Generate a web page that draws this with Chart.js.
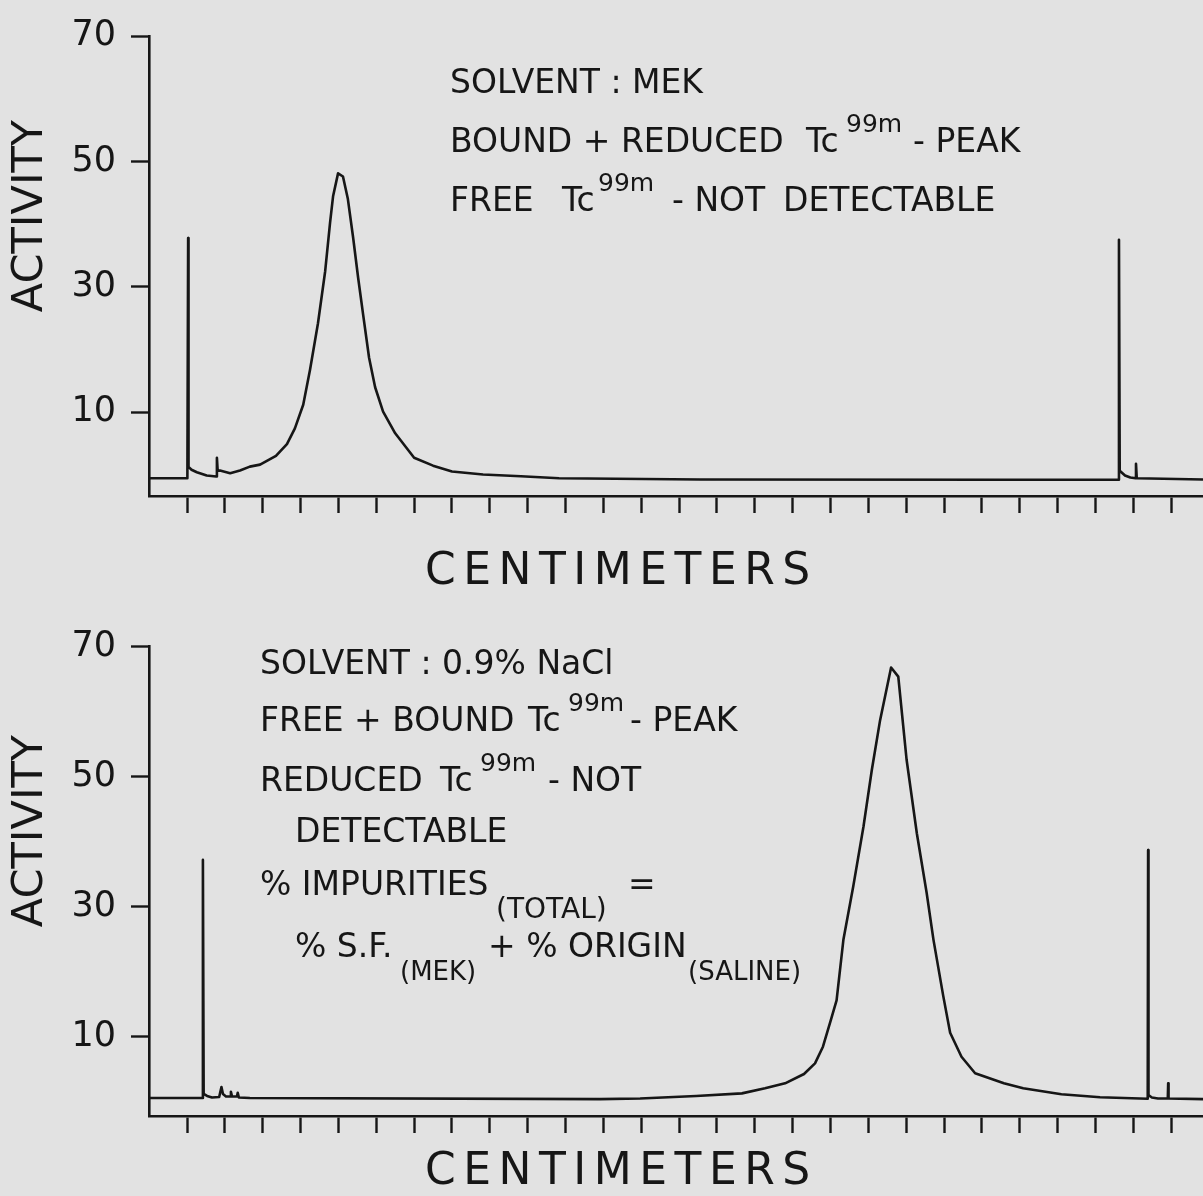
<!DOCTYPE html>
<html><head><meta charset="utf-8">
<script src="https://cdn.jsdelivr.net/npm/chart.js@4/dist/chart.umd.min.js"></script>
<style>
html,body{margin:0;padding:0;background:#e2e2e2;width:1203px;height:1196px;overflow:hidden}
.wrap{position:absolute;left:0;width:1203px;height:598px}
#w1{top:0}#w2{top:598px}
canvas{display:block}
</style></head><body>
<div class="wrap" id="w1"><canvas id="c1" width="1203" height="598"></canvas></div>
<div class="wrap" id="w2"><canvas id="c2" width="1203" height="598"></canvas></div>
<script>
// ---- data (x in centimetre tick units, activity in axis units) ----
const yTickValues = [10, 30, 50, 70];
const xTickValues = [0,1,2,3,4,5,6,7,8,9,10,11,12,13,14,15,16,17,18,19,20,21,22,23,24,25,26];

const mekX = [-1.0, 0.01, 0.03, 0.04, 0.12, 0.26, 0.52, 0.77, 0.79, 0.81, 0.87, 1.14, 1.40, 1.66, 1.93, 2.35, 2.64, 2.85, 3.07, 3.25, 3.46, 3.65, 3.78, 3.86, 3.99, 4.12, 4.25, 4.39, 4.52, 4.65, 4.81, 4.97, 5.18, 5.5, 6.0, 6.5, 7.0, 7.82, 8.82, 9.83, 13.55, 21.48, 24.61, 24.62, 24.64, 24.78, 24.92, 25.06, 25.07, 25.09, 26.84];
const mekActivity = [-0.5, -0.5, 37.8, 1.3, 0.85, 0.45, -0.06, -0.22, 2.75, 0.7, 0.72, 0.3, 0.72, 1.34, 1.66, 3.06, 4.94, 7.44, 11.2, 16.8, 24.2, 32.5, 40.3, 44.5, 48.1, 47.6, 44.0, 37.8, 31.5, 25.7, 18.7, 14.0, 10.1, 6.66, 2.75, 1.5, 0.56, 0.1, -0.2, -0.5, -0.7, -0.75, -0.75, 37.5, 0.7, -0.06, -0.4, -0.5, 1.8, -0.5, -0.7];

const salineX = [-1.0, 0.41, 0.42, 0.44, 0.53, 0.66, 0.85, 0.91, 0.95, 1.03, 1.15, 1.16, 1.19, 1.32, 1.34, 1.37, 1.66, 10.91, 11.97, 13.45, 14.66, 15.27, 15.80, 16.30, 16.59, 16.80, 17.01, 17.16, 17.34, 17.60, 17.87, 18.09, 18.31, 18.6, 18.79, 19.01, 19.28, 19.54, 19.72, 19.98, 20.16, 20.46, 20.82, 21.58, 22.09, 23.10, 24.12, 25.38, 25.39, 25.40, 25.49, 25.65, 25.91, 25.92, 25.93, 26.84];
const salineActivity = [0.57, 0.57, 37.2, 1.2, 0.88, 0.65, 0.72, 2.26, 1.18, 0.8, 0.8, 1.54, 0.8, 0.8, 1.38, 0.65, 0.57, 0.4, 0.49, 0.88, 1.28, 2.06, 2.83, 4.26, 5.9, 8.46, 12.6, 15.6, 24.9, 33.1, 42.3, 51.0, 58.7, 66.8, 65.4, 52.6, 41.3, 32.1, 24.9, 16.2, 10.6, 6.92, 4.37, 2.83, 2.06, 1.14, 0.68, 0.46, 38.7, 1.0, 0.65, 0.5, 0.5, 2.83, 0.5, 0.4];

const yTitle = 'ACTIVITY';
const xTitle = 'CENTIMETERS';

// ---- drawing ----
const ink = '#161616';
const FONT = '"DejaVu Sans", sans-serif';

const figText = {
  id: 'figText',
  afterDraw(chart, args, opts) {
    const ctx = chart.ctx;
    ctx.save();
    ctx.fillStyle = ink;
    ctx.textBaseline = 'alphabetic';
    for (const r of opts.runs) {
      ctx.font = r.s + 'px ' + FONT;
      ctx.letterSpacing = (r.ls || 0) + 'px';
      ctx.textAlign = 'left';
      ctx.fillText(r.t, r.x, r.y);
    }
    const a = opts.yTitle;
    ctx.letterSpacing = (a.ls || 0) + 'px';
    ctx.translate(a.x, a.y);
    ctx.rotate(-Math.PI / 2);
    ctx.font = a.s + 'px ' + FONT;
    ctx.textAlign = 'center';
    ctx.textBaseline = 'middle';
    ctx.fillText(a.t, 0, 0);
    ctx.restore();
  }
};

function makeChart(id, xs, ys, cfg) {
  const pts = xs.map((x, i) => ({ x: x, y: ys[i] }));
  return new Chart(document.getElementById(id), {
    type: 'line',
    data: { datasets: [{ data: pts, borderColor: ink, borderWidth: 2.6, pointRadius: 0, tension: 0, borderJoinStyle: 'round', borderCapStyle: 'round', fill: false }] },
    options: {
      responsive: false, animation: false, devicePixelRatio: 1,
      layout: { padding: { top: cfg.top, right: 0, left: 0, bottom: 0 } },
      plugins: { legend: { display: false }, tooltip: { enabled: false }, figText: { runs: cfg.runs, yTitle: cfg.yTitle } },
      scales: {
        x: {
          type: 'linear', min: -1.004, max: 26.84,
          afterBuildTicks: s => { s.ticks = xTickValues.map(v => ({ value: v })); },
          afterFit: s => { s.height = cfg.xAxisHeight; },
          grid: { drawOnChartArea: false, drawTicks: true, tickLength: 17, tickWidth: 2.4, tickColor: ink },
          border: { display: true, color: ink, width: 2.6 },
          ticks: { display: false }
        },
        y: {
          type: 'linear', min: cfg.yMin, max: 70,
          afterBuildTicks: s => { s.ticks = yTickValues.map(v => ({ value: v })); },
          afterFit: s => { s.width = 149; },
          grid: { drawOnChartArea: false, drawTicks: true, tickLength: 18, tickWidth: 2.4, tickColor: ink },
          border: { display: true, color: ink, width: 2.6 },
          ticks: { color: ink, font: { family: 'DejaVu Sans', size: 35 }, padding: 15 }
        }
      }
    },
    plugins: [figText]
  });
}

// top panel (MEK)
makeChart('c1', mekX, mekActivity, {
  top: 27, xAxisHeight: 102, yMin: -3.34,
  yTitle: { t: yTitle, x: 31, y: 216, s: 43 },
  runs: [
    { t: 'SOLVENT : MEK', x: 450, y: 93, s: 33 },
    { t: 'BOUND + REDUCED', x: 450, y: 152, s: 33 },
    { t: 'Tc', x: 806, y: 152, s: 33 },
    { t: '99m', x: 846, y: 132, s: 25 },
    { t: '- PEAK', x: 913, y: 152, s: 33 },
    { t: 'FREE', x: 450, y: 211, s: 33 },
    { t: 'Tc', x: 562, y: 211, s: 33 },
    { t: '99m', x: 598, y: 191, s: 25 },
    { t: '- NOT', x: 672, y: 211, s: 33 },
    { t: 'DETECTABLE', x: 783, y: 211, s: 33 },
    { t: xTitle, x: 425, y: 584, s: 44, ls: 7.5 }
  ]
});

// bottom panel (0.9% NaCl) — canvas starts at page y 598
makeChart('c2', salineX, salineActivity, {
  top: 48.7, xAxisHeight: 80, yMin: -2.2,
  yTitle: { t: yTitle, x: 31, y: 831 - 598, s: 43 },
  runs: [
    { t: 'SOLVENT : 0.9% NaCl', x: 260, y: 674 - 598, s: 33 },
    { t: 'FREE + BOUND', x: 260, y: 731 - 598, s: 33 },
    { t: 'Tc', x: 528, y: 731 - 598, s: 33 },
    { t: '99m', x: 568, y: 711 - 598, s: 25 },
    { t: '- PEAK', x: 630, y: 731 - 598, s: 33 },
    { t: 'REDUCED', x: 260, y: 791 - 598, s: 33 },
    { t: 'Tc', x: 440, y: 791 - 598, s: 33 },
    { t: '99m', x: 480, y: 771 - 598, s: 25 },
    { t: '- NOT', x: 548, y: 791 - 598, s: 33 },
    { t: 'DETECTABLE', x: 295, y: 842 - 598, s: 33 },
    { t: '% IMPURITIES', x: 260, y: 895 - 598, s: 33 },
    { t: '(TOTAL)', x: 496, y: 918 - 598, s: 28 },
    { t: '=', x: 628, y: 895 - 598, s: 33 },
    { t: '% S.F.', x: 295, y: 957 - 598, s: 33 },
    { t: '(MEK)', x: 400, y: 980 - 598, s: 26 },
    { t: '+ % ORIGIN', x: 488, y: 957 - 598, s: 33 },
    { t: '(SALINE)', x: 688, y: 980 - 598, s: 26 }
    , { t: xTitle, x: 425, y: 1184 - 598, s: 44, ls: 7.5 }
  ]
});
</script>
</body></html>
